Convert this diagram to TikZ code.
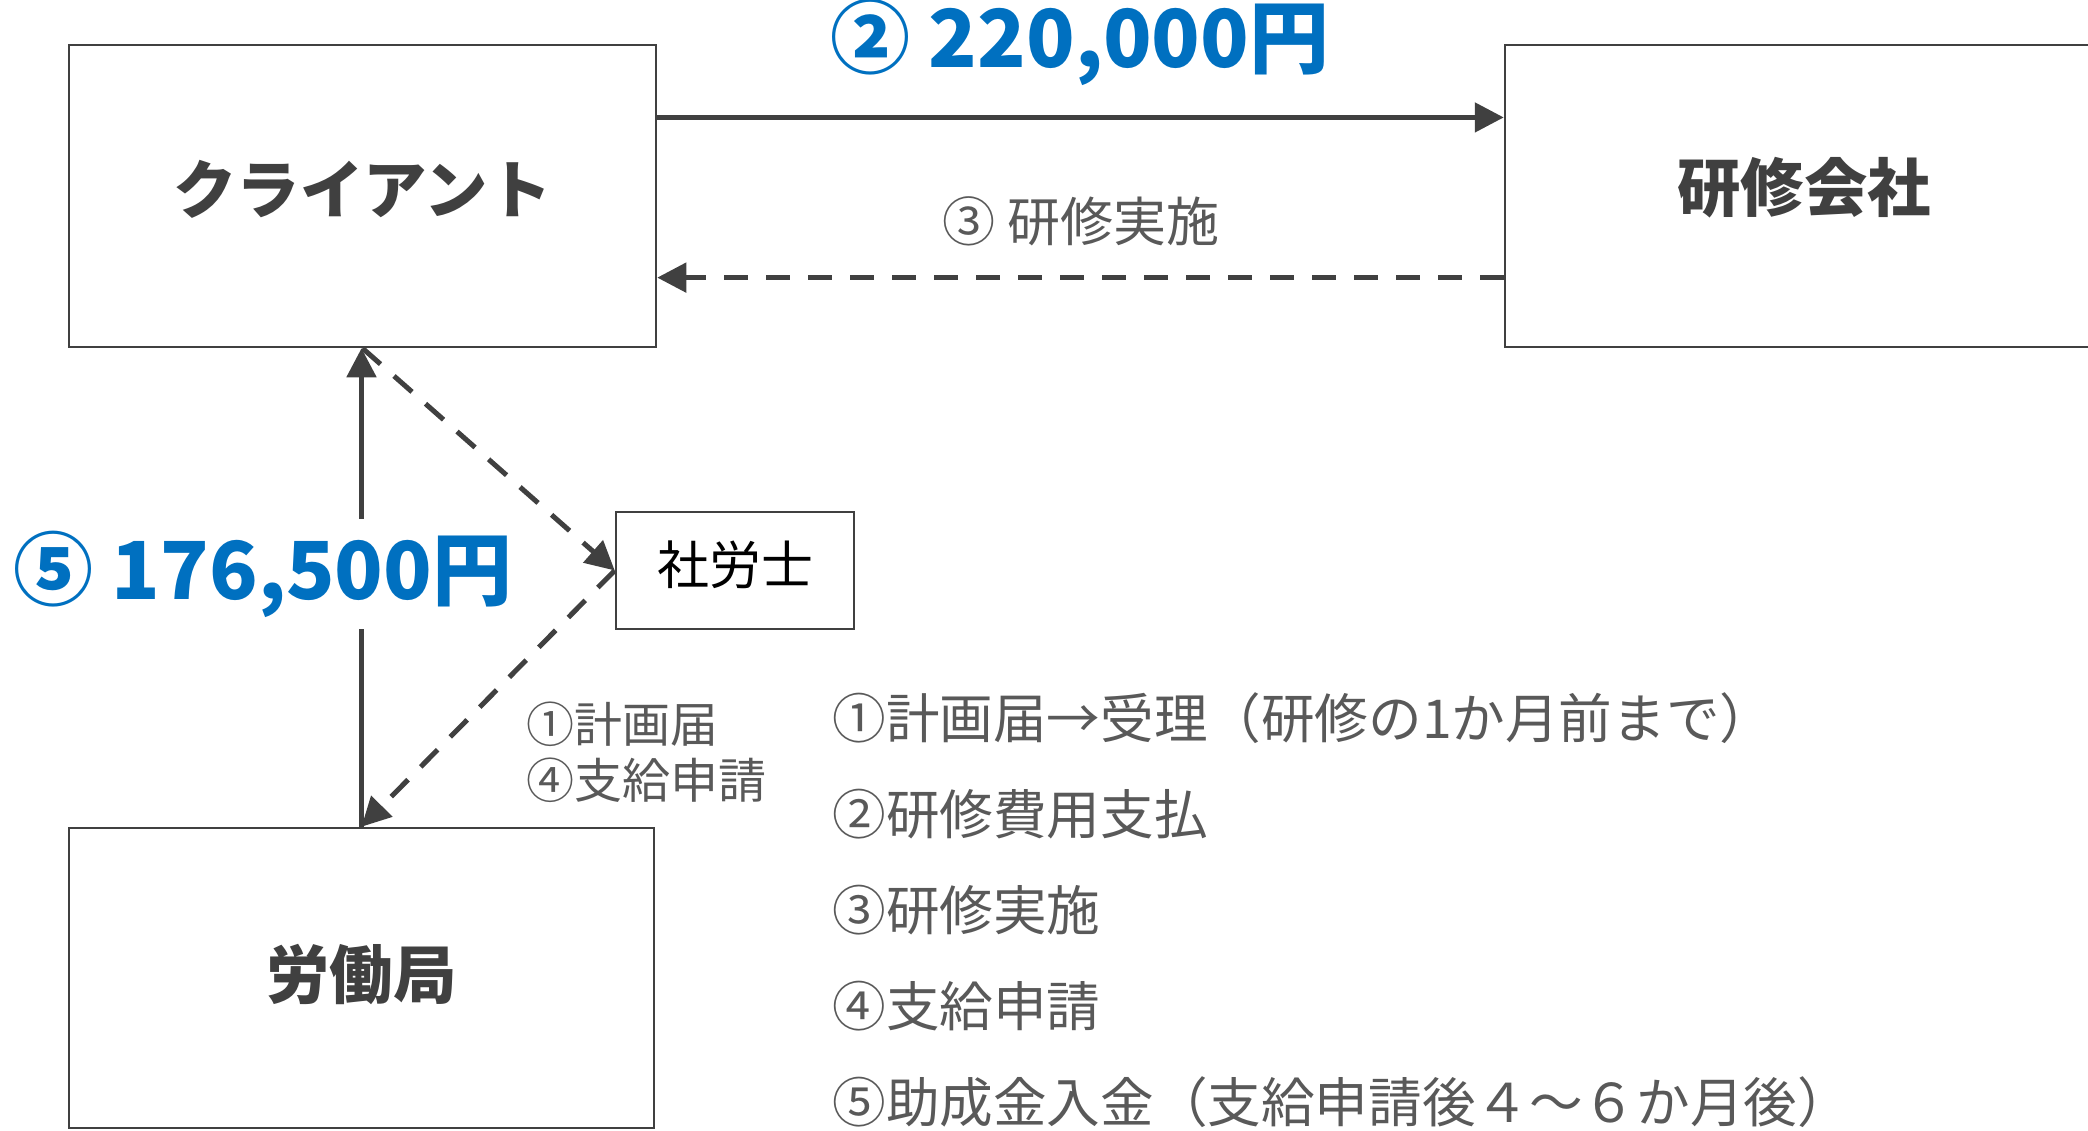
\documentclass[tikz,border=0pt]{standalone}
\usepackage{fontspec}
\setmainfont{Noto Sans CJK JP}
\usetikzlibrary{arrows.meta,calc}
\definecolor{dk}{HTML}{404040}
\definecolor{lt}{HTML}{595959}
\definecolor{bl}{HTML}{0070C0}
\tikzset{
  box/.style={draw=dk, line width=1.25pt, fill=white, inner sep=0pt},
  conn/.style={draw=dk, line width=2.5pt, -{Triangle[length=14.5pt,width=14.5pt]}},
  dconn/.style={conn, dash pattern=on 12pt off 9pt},
  boldlbl/.style={text=dk, inner sep=0pt, font=\fontsize{31.7pt}{36pt}\selectfont\bfseries},
  money/.style={text=bl, font=\fontsize{40pt}{46pt}\selectfont\bfseries},
  note/.style={text=lt, font=\fontsize{26.5pt}{30pt}\selectfont},
  listitem/.style={text=lt, anchor=west, inner sep=0pt, font=\fontsize{26.8pt}{30pt}\selectfont},
}
\begin{document}
\begin{tikzpicture}[x=0.5pt,y=-0.5pt]
\useasboundingbox (0,0) rectangle (2088,1130);
\node[box, minimum width=293.5pt, minimum height=151pt] (client) at (362.5,196) {};
\node[box, minimum width=299pt, minimum height=151pt] (train) at (1804,196) {};
\node[box, minimum width=292.5pt, minimum height=150pt] (labor) at (361.5,978) {};
\node[box, minimum width=119pt, minimum height=58.5pt] (sr) at (735,570.5) {};

\node[boldlbl] (clientT) at ($(client.center)+(0,-7)$) {クライアント};
\node[boldlbl] (trainT) at ($(train.center)+(0,-8)$) {研修会社};
\node[boldlbl] (laborT) at ($(labor.center)+(0,-4)$) {労働局};
\node[text=black, inner sep=0pt, font=\fontsize{26pt}{30pt}\selectfont] (srT) at ($(sr.center)+(0,-6)$) {社労士};

\draw[conn] ($(client.north east)!0.242!(client.south east)$) -- ($(train.north west)!0.242!(train.south west)$);
\draw[dconn] ($(train.north west)!0.768!(train.south west)$) -- ($(client.north east)!0.768!(client.south east)$);
\draw[conn] (labor.north) -- (labor.north |- client.south);
\draw[dconn] (client.south) -- (sr.west);
\draw[dconn] (sr.west) -- (labor.north);

\node[money, inner sep=0pt, anchor=base, text height=29pt, text depth=0pt] (m2) at (1080,67) {② 220,000円};
\node[note] (n3) at (1081,221) {③ 研修実施};
\node[money, fill=white, inner xsep=2pt, minimum height=55pt] (m5) at (263,574) {⑤ 176,500円};
\node[text=lt, anchor=west, inner sep=0pt, align=left, font=\fontsize{24pt}{28pt}\selectfont] (side) at (526,752) {①計画届\\④支給申請};

\node[listitem] (l1) at (832,718) {①計画届→受理（研修の1か月前まで）};
\node[listitem] (l2) at (832,814) {②研修費用支払};
\node[listitem] (l3) at (832,910) {③研修実施};
\node[listitem] (l4) at (832,1006) {④支給申請};
\node[listitem] (l5) at (832,1102) {⑤助成金入金（支給申請後４～６か月後）};
\end{tikzpicture}
\end{document}
